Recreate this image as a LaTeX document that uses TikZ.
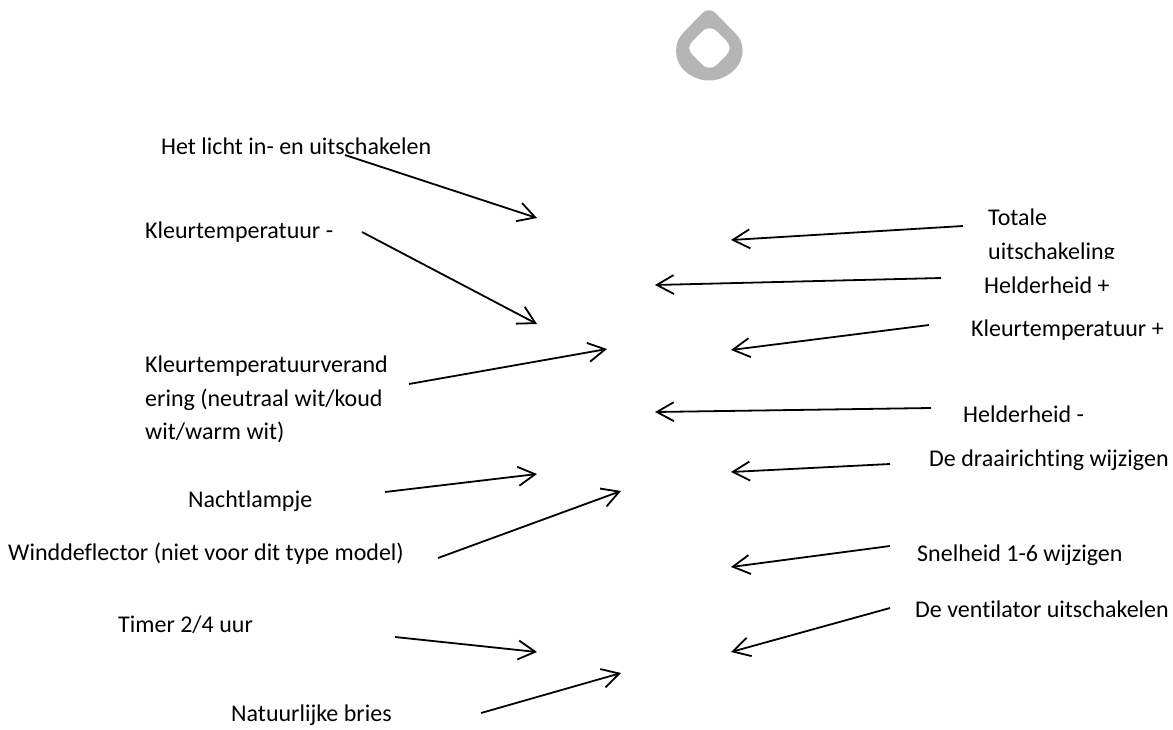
\documentclass[tikz,border=0pt]{standalone}
\usepackage{fontspec}
\setmainfont[Ligatures=NoCommon]{Carlito}
\usetikzlibrary{arrows.meta}
\tikzset{
    label/.style={anchor=base west, inner sep=0pt, align=left, text=black, font=\fontsize{24}{33.5}\selectfont},
    pijl/.style={-{Straight Barb[length=17pt, width=19pt, line width=1.8pt]}, line width=1.8pt},
}
\definecolor{icongray}{HTML}{B5B5B5}

\begin{document}
\begin{tikzpicture}[x=1pt, y=-1pt]
    \useasboundingbox (0,0) rectangle (1173,729);
    % icon
    \fill[icongray, even odd rule] (703,12.5) .. controls (706,9.5) and (712,9.5) .. (715,12.5)
        -- (735,33) .. controls (745,42) and (745,58) .. (736,68)
        .. controls (729,76) and (719,80.5) .. (709,80.5)
        .. controls (699,80.5) and (689,76) .. (682,68)
        .. controls (674,58) and (674,42) .. (683,33) -- cycle
        (703,30.5) .. controls (706,27.5) and (713,27.5) .. (716,30.5)
        -- (726,40.5) .. controls (731,45) and (731,51) .. (726,55.5)
        -- (716,65.5) .. controls (713,68.5) and (706,68.5) .. (703,65.5)
        -- (693,55.5) .. controls (688,51) and (688,45) .. (693,40.5) -- cycle;
    % left labels
    \node[label] (licht) at (161,154) {Het licht in- en uitschakelen};
    \node[label] (kleurmin) at (145,238) {Kleurtemperatuur -};
    \node[label, anchor=north west] (kleurwissel) at (145,356) {Kleurtemperatuurverand\\ering (neutraal wit/koud\\wit/warm wit)};
    \node[label] (nacht) at (188,507) {Nachtlampje};
    \node[label] (wind) at (8,560) {Winddeflector (niet voor dit type model)};
    \node[label] (timer) at (118,632) {Timer 2/4 uur};
    \node[label] (bries) at (231,721) {Natuurlijke bries};
    % right labels
    \begin{scope}
        \clip (980,200) rectangle (1173,258);
        \node[label, anchor=north west] (totaal) at (988,209) {Totale\\uitschakeling};
    \end{scope}
    \node[label] (helderplus) at (984,293) {Helderheid +};
    \node[label] (kleurplus) at (971,336) {Kleurtemperatuur +};
    \node[label] (heldermin) at (963,422) {Helderheid -};
    \node[label] (draai) at (929,466) {De draairichting wijzigen};
    \node[label] (snelheid) at (917,561) {Snelheid 1-6 wijzigen};
    \node[label] (uit) at (915,617) {De ventilator uitschakelen};
    % targets
    \coordinate (a1) at (537,218);
    \coordinate (a2) at (537,324);
    \coordinate (a3) at (607,349);
    \coordinate (a4) at (537,474);
    \coordinate (a5) at (621,491);
    \coordinate (a6) at (537,652);
    \coordinate (a7) at (621,673);
    \coordinate (b1) at (731,240);
    \coordinate (b2) at (655,285);
    \coordinate (b3) at (731,350);
    \coordinate (b4) at (655,412);
    \coordinate (b5) at (731,472);
    \coordinate (b6) at (731,567);
    \coordinate (b7) at (731,652);
    % arrows
    \draw[pijl] ([xshift=184pt, yshift=-1pt]licht.base west) -- (a1);
    \draw[pijl] ([xshift=217pt, yshift=6pt]kleurmin.base west) -- (a2);
    \draw[pijl] ([xshift=264pt, yshift=-28pt]kleurwissel.north west) -- (a3);
    \draw[pijl] ([xshift=197pt, yshift=15pt]nacht.base west) -- (a4);
    \draw[pijl] ([xshift=430pt, yshift=2pt]wind.base west) -- (a5);
    \draw[pijl] ([xshift=277pt, yshift=-5pt]timer.base west) -- (a6);
    \draw[pijl] ([xshift=250pt, yshift=8pt]bries.base west) -- (a7);
    \draw[pijl] ([xshift=-25pt, yshift=-17pt]totaal.north west) -- (b1);
    \draw[pijl] ([xshift=-43pt, yshift=15pt]helderplus.base west) -- (b2);
    \draw[pijl] ([xshift=-42pt, yshift=11pt]kleurplus.base west) -- (b3);
    \draw[pijl] ([xshift=-32pt, yshift=14pt]heldermin.base west) -- (b4);
    \draw[pijl] ([xshift=-39pt, yshift=2pt]draai.base west) -- (b5);
    \draw[pijl] ([xshift=-27pt, yshift=15pt]snelheid.base west) -- (b6);
    \draw[pijl] ([xshift=-25pt, yshift=9pt]uit.base west) -- (b7);
\end{tikzpicture}
\end{document}
